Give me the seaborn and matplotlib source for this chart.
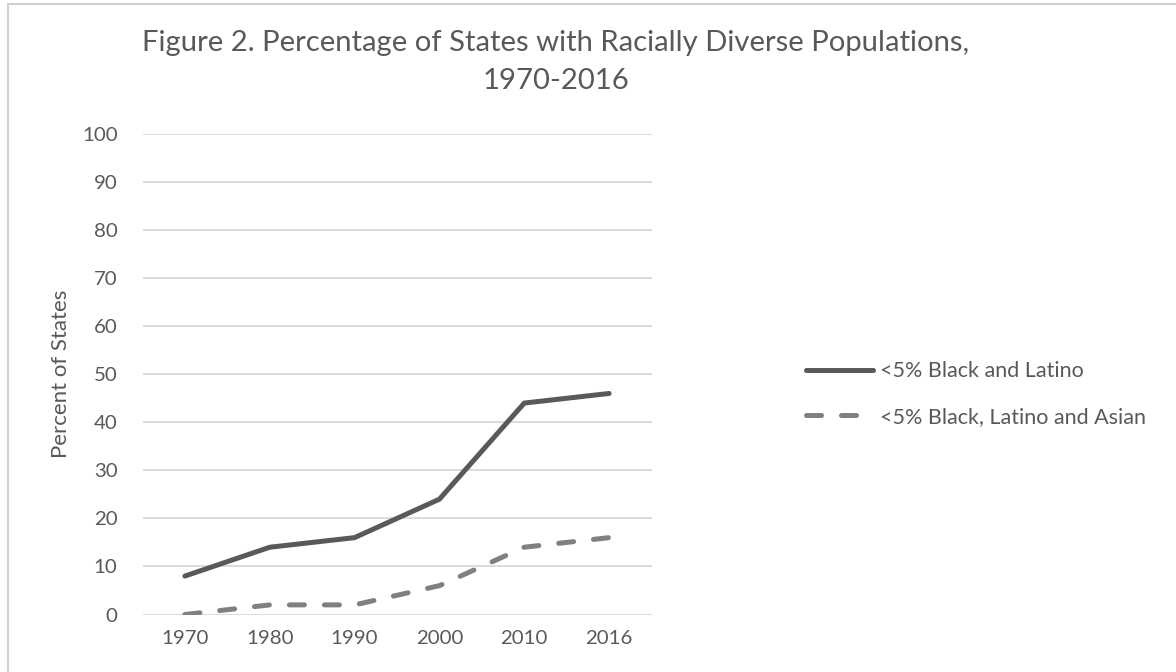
import matplotlib
matplotlib.use("Agg")
import matplotlib.pyplot as plt
import seaborn as sns
import pandas as pd
from matplotlib.lines import Line2D

# Census years shown on the horizontal axis
years = ["1970", "1980", "1990", "2000", "2010", "2016"]
# Share of states (%) below 5% for each group
black_latino = [8, 14, 16, 24, 44, 46]
black_latino_asian = [0, 2, 2, 6, 14, 16]
series_names = ["<5% Black and Latino", "<5% Black, Latino and Asian"]
y_ticks = [0, 10, 20, 30, 40, 50, 60, 70, 80, 90, 100]

df = pd.DataFrame({
    "Year": years * 2,
    "Percent": black_latino + black_latino_asian,
    "Series": [series_names[0]] * len(years) + [series_names[1]] * len(years),
})

sns.set_theme(style="white")
plt.rcParams["font.family"] = ["Lato", "DejaVu Sans"]

text_color = "#595959"
grid_color = "#d9d9d9"
colors = {series_names[0]: "#595959", series_names[1]: "#808080"}

fig = plt.figure(figsize=(11.76, 6.72), dpi=100)
ax = fig.add_axes([142.5 / 1176, 1 - 614.5 / 672, 509 / 1176, 480.5 / 672])

sns.lineplot(data=df, x="Year", y="Percent", hue="Series", style="Series",
             palette=colors, dashes={series_names[0]: "", series_names[1]: (3, 4)},
             linewidth=3.6, sort=False, legend=False, ax=ax)
for ln in ax.get_lines():
    ln.set_solid_capstyle("round")
    ln.set_dash_capstyle("round")
    ln.set_solid_joinstyle("round")

ax.set_xlim(-0.5, len(years) - 0.5)
ax.set_ylim(0, 100)
ax.set_yticks(y_ticks)
ax.yaxis.grid(True, color=grid_color, linewidth=1.3)
ax.set_axisbelow(True)
for s in ax.spines.values():
    s.set_visible(False)
ax.tick_params(axis="both", length=0, labelsize=14.7, colors=text_color)
ax.tick_params(axis="y", pad=18)
ax.tick_params(axis="x", pad=11)
ax.set_xlabel("")
ax.set_ylabel("Percent of States", fontsize=16, color=text_color, labelpad=8)

fig.text(0.4725, 1 - 30 / 672, "Figure 2. Percentage of States with Racially Diverse Populations,\n1970-2016",
         ha="center", va="top", fontsize=21.1, color=text_color, linespacing=1.55)

handles = [
    Line2D([0], [0], color=colors[series_names[0]], linewidth=3.6, solid_capstyle="round"),
    Line2D([0], [0], color=colors[series_names[1]], linewidth=3.6, linestyle=(0, (3, 4)),
           dash_capstyle="round"),
]
fig.legend(handles, series_names, loc="center left", bbox_to_anchor=(787 / 1176, 1 - 394 / 672),
           frameon=False, fontsize=15.5, labelcolor=text_color, handlelength=3.1,
           handletextpad=0.3, labelspacing=1.2)

# chart frame
fig.add_artist(Line2D([8 / 1176, 8 / 1176], [0, 1 - 4 / 672], color="#d0d0d0", linewidth=1.5,
                      transform=fig.transFigure))
fig.add_artist(Line2D([8 / 1176, 1], [1 - 4 / 672, 1 - 4 / 672], color="#d0d0d0", linewidth=1.5,
                      transform=fig.transFigure))

fig.savefig("out.png", dpi=100, facecolor="white")
